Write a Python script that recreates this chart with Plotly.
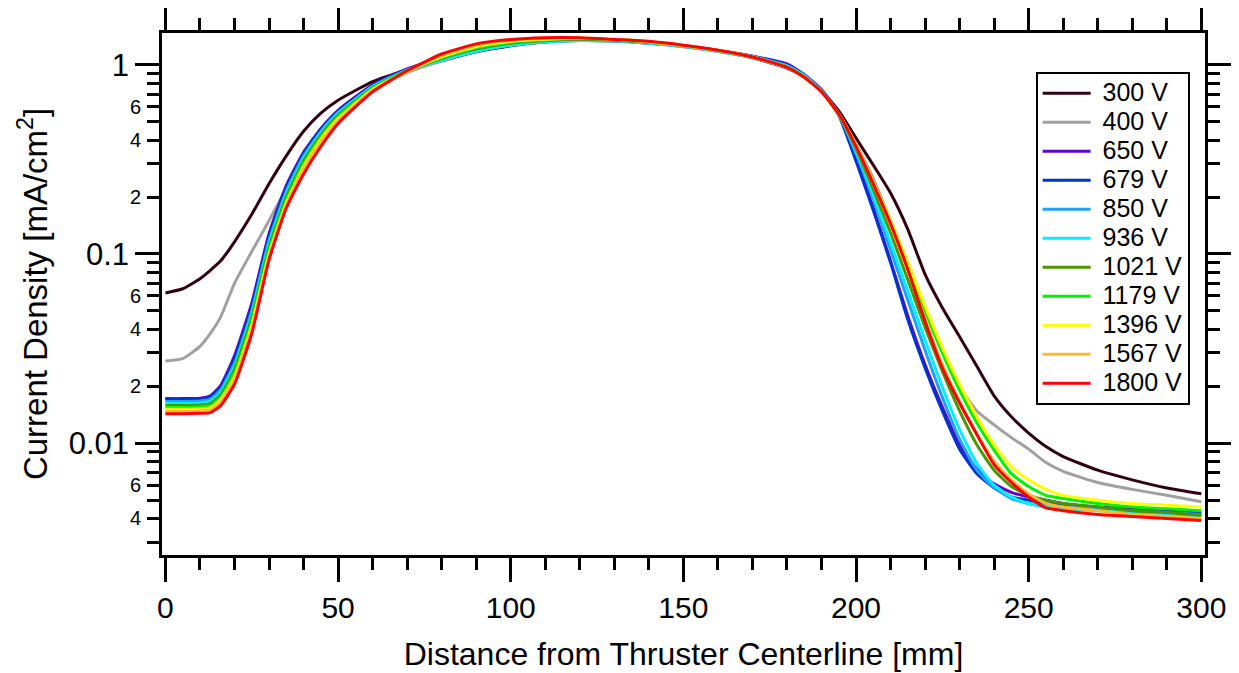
import math
import plotly.graph_objects as go

# Distance from thruster centerline [mm]
X = [0, 5, 10, 13, 16, 20, 25, 30, 35, 40, 45, 50, 60, 70, 80, 90, 100, 110, 120, 130,
     140, 150, 160, 170, 180, 185, 190, 195, 200, 205, 210, 215, 220, 225, 230, 235,
     240, 245, 250, 255, 260, 270, 280, 290, 300]

# Current density [mA/cm^2] for each discharge voltage
V300 = [0.0622, 0.0655, 0.074, 0.082, 0.092, 0.116, 0.162, 0.235, 0.33, 0.445, 0.555, 0.65, 0.815, 0.94,
        1.05, 1.17, 1.26, 1.32, 1.345, 1.335, 1.30, 1.25, 1.18, 1.09,
        0.96, 0.86, 0.73, 0.57, 0.41, 0.295, 0.21, 0.135, 0.078, 0.052, 0.0365, 0.0255, 0.0178, 0.0138,
        0.0113, 0.0096, 0.0085, 0.0072, 0.0064, 0.0058, 0.0054]
V400 = [0.0272, 0.028, 0.0325, 0.038, 0.0465, 0.07, 0.103, 0.15, 0.222, 0.318, 0.43, 0.55, 0.75, 0.91,
        1.05, 1.18, 1.27, 1.325, 1.35, 1.34, 1.305, 1.25, 1.18, 1.09,
        0.965, 0.86, 0.72, 0.55, 0.38, 0.25, 0.15, 0.09, 0.052, 0.031, 0.0199, 0.0148, 0.0125, 0.0107,
        0.0093, 0.0079, 0.0071, 0.0062, 0.0057, 0.0053, 0.0049]
V650 = [0.0172, 0.0172, 0.0173, 0.0178, 0.0202, 0.029, 0.055, 0.128, 0.23, 0.345, 0.46, 0.575, 0.785, 0.95,
        1.08, 1.20, 1.29, 1.335, 1.355, 1.345, 1.31, 1.26, 1.19, 1.11,
        1.01, 0.89, 0.74, 0.55, 0.32, 0.175, 0.092, 0.047, 0.026, 0.0155, 0.0098, 0.0073, 0.0061, 0.0055,
        0.0052, 0.0050, 0.0048, 0.0046, 0.0045, 0.0044, 0.0043]
V679 = [0.0171, 0.0171, 0.0172, 0.0176, 0.0198, 0.028, 0.053, 0.125, 0.225, 0.34, 0.455, 0.57, 0.78, 0.945,
        1.08, 1.20, 1.29, 1.335, 1.355, 1.345, 1.31, 1.26, 1.19, 1.11,
        1.0, 0.88, 0.73, 0.54, 0.31, 0.17, 0.09, 0.045, 0.025, 0.0148, 0.0093, 0.0069, 0.0058, 0.0052,
        0.0050, 0.0048, 0.0047, 0.00455, 0.0044, 0.00433, 0.00425]
V850 = [0.0166, 0.0166, 0.0167, 0.0171, 0.0192, 0.0265, 0.05, 0.118, 0.215, 0.33, 0.445, 0.56, 0.77, 0.94,
        1.07, 1.19, 1.28, 1.33, 1.35, 1.34, 1.305, 1.255, 1.185, 1.105,
        0.99, 0.88, 0.73, 0.545, 0.34, 0.195, 0.105, 0.057, 0.031, 0.0175, 0.0105, 0.0072, 0.0058, 0.0051,
        0.0048, 0.0047, 0.0046, 0.0045, 0.0044, 0.0043, 0.0042]
V936 = [0.0162, 0.0162, 0.0163, 0.0167, 0.0186, 0.0255, 0.048, 0.113, 0.207, 0.32, 0.435, 0.55, 0.765, 0.935,
        1.06, 1.18, 1.27, 1.325, 1.345, 1.335, 1.30, 1.25, 1.18, 1.10,
        0.985, 0.875, 0.725, 0.545, 0.35, 0.205, 0.115, 0.064, 0.035, 0.0198, 0.0118, 0.0078, 0.006, 0.0052,
        0.0048, 0.0046, 0.0045, 0.0044, 0.0043, 0.0042, 0.0041]
V1021 = [0.0158, 0.0158, 0.0159, 0.0162, 0.018, 0.0245, 0.046, 0.108, 0.2, 0.31, 0.425, 0.54, 0.755, 0.93,
         1.08, 1.21, 1.30, 1.345, 1.365, 1.35, 1.315, 1.26, 1.19, 1.10,
         0.975, 0.865, 0.72, 0.545, 0.36, 0.22, 0.13, 0.073, 0.041, 0.024, 0.0148, 0.0098, 0.0072, 0.0059,
         0.0053, 0.0050, 0.0048, 0.0046, 0.0044, 0.0043, 0.00415]
V1179 = [0.0155, 0.0155, 0.0156, 0.0158, 0.0175, 0.0235, 0.044, 0.104, 0.193, 0.30, 0.415, 0.53, 0.75, 0.925,
         1.09, 1.23, 1.315, 1.355, 1.375, 1.36, 1.32, 1.26, 1.19, 1.10,
         0.97, 0.86, 0.72, 0.55, 0.37, 0.235, 0.145, 0.086, 0.05, 0.03, 0.019, 0.0128, 0.0092, 0.0069,
         0.0059, 0.0053, 0.0051, 0.0048, 0.0046, 0.0045, 0.0044]
V1396 = [0.0151, 0.0151, 0.0152, 0.0154, 0.017, 0.0225, 0.042, 0.10, 0.186, 0.29, 0.405, 0.52, 0.74, 0.92,
         1.10, 1.25, 1.33, 1.365, 1.38, 1.365, 1.325, 1.265, 1.19, 1.10,
         0.97, 0.86, 0.72, 0.55, 0.375, 0.24, 0.15, 0.09, 0.053, 0.032, 0.0205, 0.0138, 0.0098, 0.0075,
         0.0064, 0.0057, 0.0053, 0.0050, 0.0048, 0.0047, 0.0046]
V1567 = [0.0147, 0.0147, 0.0148, 0.015, 0.0165, 0.0215, 0.04, 0.096, 0.18, 0.28, 0.39, 0.505, 0.73, 0.92,
         1.12, 1.27, 1.345, 1.38, 1.385, 1.365, 1.325, 1.26, 1.19, 1.10,
         0.97, 0.86, 0.72, 0.55, 0.37, 0.235, 0.142, 0.082, 0.045, 0.026, 0.0165, 0.0112, 0.008, 0.0064,
         0.0054, 0.0048, 0.0046, 0.0044, 0.0042, 0.0041, 0.0040]
V1800 = [0.0143, 0.0143, 0.0144, 0.0145, 0.0158, 0.0205, 0.038, 0.093, 0.175, 0.265, 0.37, 0.49, 0.72, 0.93,
         1.14, 1.29, 1.36, 1.39, 1.39, 1.36, 1.33, 1.27, 1.195, 1.10,
         0.97, 0.86, 0.72, 0.55, 0.37, 0.235, 0.145, 0.083, 0.044, 0.025, 0.0163, 0.0111, 0.0077, 0.0062,
         0.0052, 0.00455, 0.0044, 0.0042, 0.0041, 0.0040, 0.0039]

LABELS = ["300 V", "400 V", "650 V", "679 V", "850 V", "936 V", "1021 V", "1179 V",
          "1396 V", "1567 V", "1800 V"]
COLORS = ["#300010", "#a0a0a0", "#6600cc", "#0033cc", "#1ea0ff", "#00f0ff", "#4a9600",
          "#00f000", "#ffff00", "#ffb830", "#ff0000"]
SERIES = [V300, V400, V650, V679, V850, V936, V1021, V1179, V1396, V1567, V1800]

# axis ticks
X_MAJOR_DTICK = 50
X_MINOR_DTICK = 10
Y_MAJOR = [0.01, 0.1, 1]
Y_MAJOR_TEXT = ["0.01", "0.1", "1"]
Y_MINOR = [m * d for d in (0.001, 0.01, 0.1, 1) for m in range(2, 10) if m * d < 1.8]
Y_MINOR_LABELED = [0.004, 0.006, 0.02, 0.04, 0.06, 0.2, 0.4, 0.6]
Y_MINOR_TEXT = ["4", "6", "2", "4", "6", "2", "4", "6"]

FONT = "Liberation Sans, Arial, sans-serif"
XRANGE = [-1.0, 301.07]
YRANGE = [-2.591, 0.168]

fig = go.Figure()
for name, vals, color in zip(LABELS, SERIES, COLORS):
    fig.add_trace(go.Scatter(x=X, y=vals, mode="lines",
                             name='<span style="font-size:25px">&nbsp;%s</span>' % name,
                             line=dict(color=color, width=3, shape="spline", smoothing=0.5)))

fig.update_layout(
    width=1231, height=665,
    margin=dict(l=154, r=34, t=25, b=118),
    plot_bgcolor="white", paper_bgcolor="white",
    font=dict(family=FONT, color="black"),
    showlegend=True,
    legend=dict(x=0.8376, y=0.9257, xanchor="left", yanchor="top",
                bordercolor="black", borderwidth=2, bgcolor="white",
                font=dict(size=20, family=FONT), tracegroupgap=0, itemwidth=48),
    xaxis=dict(
        range=XRANGE, automargin=False, showline=True, linecolor="black", linewidth=2.5,
        mirror="allticks", ticks="outside", ticklen=24, tickwidth=2.5, tickcolor="black",
        tick0=0, dtick=X_MAJOR_DTICK, tickfont=dict(size=30), showgrid=False, zeroline=False,
        minor=dict(tick0=0, dtick=X_MINOR_DTICK, ticklen=12, tickwidth=2.5, ticks="outside",
                   tickcolor="black", showgrid=False),
        title=dict(text="Distance from Thruster Centerline [mm]", font=dict(size=32), standoff=20),
    ),
    yaxis=dict(
        type="log", range=YRANGE, automargin=False, showline=True, linecolor="black", linewidth=2.5,
        mirror="allticks", ticks="outside", ticklen=24, tickwidth=2.5, tickcolor="black",
        tickmode="array", tickvals=Y_MAJOR, ticktext=Y_MAJOR_TEXT, tickfont=dict(size=31),
        showgrid=False, zeroline=False,
        minor=dict(tickmode="array", tickvals=Y_MINOR, ticklen=12, tickwidth=2.5,
                   ticks="outside", tickcolor="black", showgrid=False),
        title=dict(text="Current Density [mA/cm<sup>2</sup>]", font=dict(size=33), standoff=12),
    ),
)

for v, t in zip(Y_MINOR_LABELED, Y_MINOR_TEXT):
    fig.add_annotation(x=-0.0185, xref="paper", y=math.log10(v), yref="y", text=t,
                       showarrow=False, xanchor="right", yanchor="middle",
                       font=dict(size=20, family=FONT, color="black"))

fig.write_html("out.html")
